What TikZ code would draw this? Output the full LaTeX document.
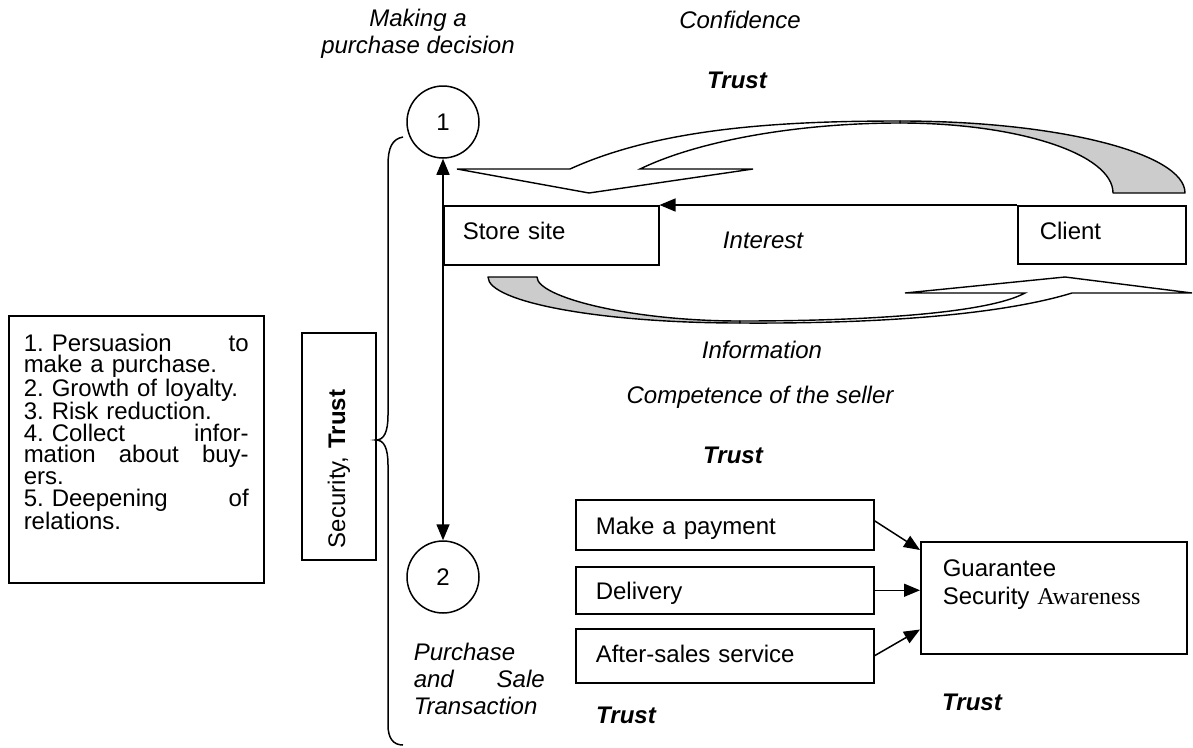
\documentclass[tikz,border=0pt]{standalone}
\usepackage{fontspec}
\setmainfont{Liberation Sans}
\newfontfamily\timesfont{Liberation Serif}
\usetikzlibrary{arrows.meta}
\frenchspacing
\begin{document}
\begin{tikzpicture}[x=1pt,y=-1pt,line width=1.5pt,
  txt/.style={font=\fontsize{24pt}{27pt}\selectfont, inner sep=0pt},
  lbl/.style={font=\fontsize{24pt}{27pt}\selectfont\itshape, inner sep=0pt},
  blbl/.style={font=\fontsize{24pt}{27pt}\selectfont\bfseries\itshape, inner sep=0pt},
  tbox/.style={draw, anchor=north west, inner ysep=0pt, align=left,
               font=\fontsize{24pt}{28pt}\selectfont},
  stage/.style={draw, circle, minimum size=72pt, inner sep=0pt,
                font=\fontsize{24pt}{27pt}\selectfont},
  tip/.style={-{Triangle[length=16pt,width=13pt]}},
  twotip/.style={{Triangle[length=16pt,width=13pt]}-{Triangle[length=16pt,width=13pt]}},
  ribbonback/.style={draw, fill=black!20, line width=1.4pt, line join=round},
  ribbonfront/.style={draw, fill=white, line width=1.4pt, line join=miter}]
\useasboundingbox (0,0) rectangle (1193,747);

% ---- curved ribbon arrow: Client -> Store site (upper) ----
\path[ribbonback] (900,121) .. controls (1057,121) and (1185,153) .. (1185,193)
  -- (1113,193) .. controls (1113,154) and (1018,123) .. (900,123) -- cycle;
\path[ribbonfront] (570,169) -- (457,169) -- (589,193) -- (753,169) -- (640,169)
  .. controls (700,140) and (800,123) .. (900,123) -- (900,121)
  .. controls (780,121) and (660,128) .. (570,169) -- cycle;

% ---- curved ribbon arrow: Store site -> Client (lower) ----
\path[ribbonback] (488,277) -- (537,277) .. controls (537,297) and (630,321) .. (740,321)
  -- (740,323) .. controls (600,323) and (488,302) .. (488,277) -- cycle;
\path[ribbonfront] (740,323) .. controls (900,324) and (1010,312) .. (1072,293)
  -- (1192,293) -- (1065,277) -- (905,293) -- (1025,293)
  .. controls (990,312) and (880,321) .. (740,321) -- cycle;

% ---- stages ----
\node[stage] (c1) at (443,122) {1};
\node[stage] (c2) at (443,577) {2};

% ---- store and client ----
\node[tbox, minimum width=215pt, inner xsep=19pt, text width=177pt,
      text height=33.4pt, text depth=25.6pt] (store) at (443,205) {Store site};
\node[tbox, minimum width=168pt, inner xsep=22pt, text width=124pt,
      text height=33.4pt, text depth=24.6pt] (client) at (1017,205) {Client};

% ---- list of goals ----
\node[draw, anchor=north west, inner xsep=15pt, inner ysep=0pt, text width=225pt,
      align=left, text height=35.4pt, text depth=231.6pt,
      font=\fontsize{24pt}{21.7pt}\selectfont] (goals) at (8,315)
 {1. Persuasion\hfill to\\
  make a purchase.\\
  2. Growth of loyalty.\\
  3. Risk reduction.\\
  4. Collect\hfill infor-\\
  mation\hfill about\hfill buy-\\
  ers.\\
  5. Deepening\hfill of\\
  relations.};

% ---- security box ----
\node[draw, rotate=90, minimum width=227pt, minimum height=74pt, inner xsep=12pt,
      text width=203pt, align=left, font=\fontsize{24pt}{27pt}\selectfont]
  (sec) at (339,446.5) {Security, \textbf{Trust}};

% ---- brace ----
\draw (403,137) .. controls (392,139) and (388,148) .. (388,165)
  -- (388,415) .. controls (388,432) and (384,440) .. (376,440)
  .. controls (384,440) and (388,448) .. (388,465)
  -- (388,725) .. controls (388,738) and (393,745) .. (403,745);

% ---- transaction steps ----
\node[tbox, minimum width=298pt, inner xsep=20pt, text width=258pt,
      text height=34.4pt, text depth=15.6pt] (pay) at (575,499) {Make a payment};
\node[tbox, minimum width=298pt, inner xsep=20pt, text width=258pt,
      text height=32.4pt, text depth=14.6pt] (deliv) at (575,566) {Delivery};
\node[tbox, minimum width=298pt, inner xsep=20pt, text width=258pt,
      text height=33.4pt, text depth=20.6pt] (after) at (575,628) {After-sales service};
\node[tbox, minimum width=266pt, inner xsep=22pt, text width=222pt,
      text height=34.5pt, text depth=77.5pt] (guar) at (920,541)
  {Guarantee\\Security {\timesfont Awareness}};

% ---- connectors ----
\draw[twotip] (c1.south) -- (c2.north);
\draw[tip] (client.north west) -- (store.north east);
\draw[tip] ([yshift=4pt]pay.east) -- ([yshift=-9pt]guar.north west);
\draw[tip] (deliv.east) -- (deliv.east -| guar.west);
\draw[tip] (after.east) -- ([yshift=25pt]guar.south west);

% ---- labels ----
\node[lbl, align=center] (decide) at (418,34) {Making a\\purchase decision};
\node[lbl] (conf) at (740,20) {Confidence};
\node[blbl] (trust1) at (737,80) {Trust};
\node[lbl] (interest) at (763,240) {Interest};
\node[lbl] (info) at (762,350) {Information};
\node[lbl] (compet) at (760,397) {Competence of the seller};
\node[blbl] (trust2) at (733,455) {Trust};
\node[lbl, anchor=base west, text width=131pt, align=left] (deal) at (413,660.4)
  {Purchase\\and\hfill Sale\\Transaction};
\node[blbl] (trust3) at (626,715) {Trust};
\node[blbl] (trust4) at (972,702) {Trust};
\end{tikzpicture}
\end{document}
